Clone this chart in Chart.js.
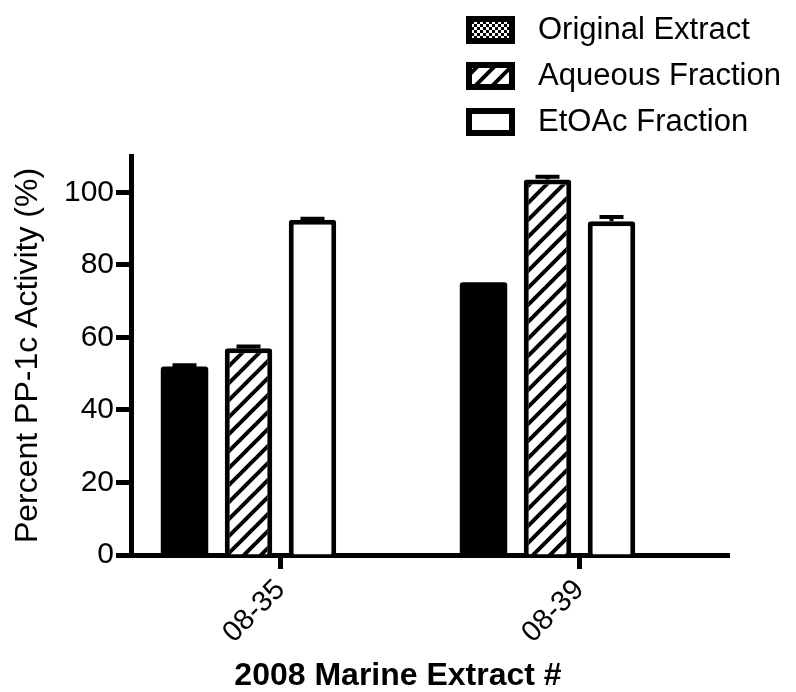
<!DOCTYPE html>
<html>
<head>
<meta charset="utf-8">
<script src="https://cdn.jsdelivr.net/npm/chart.js@4.4.1/dist/chart.umd.min.js"></script>
<style>
  html, body { margin: 0; padding: 0; background: #fff; }
  #wrap { width: 796px; height: 692px; }
</style>
</head>
<body>
<div id="wrap"><canvas id="chart" width="796" height="692"></canvas></div>
<script>
// Extract samples and their PP-1c activity (%), mean and upper SEM
const categories = ['08-35', '08-39'];
const originalExtract = [52.0, 75.2];
const originalExtractErr = [0.3, 0];
const aqueousFraction = [57.0, 103.5];
const aqueousFractionErr = [0.5, 0.8];
const etoacFraction = [92.4, 92.0];
const etoacFractionErr = [0.3, 1.2];
const yTicks = [0, 20, 40, 60, 80, 100];

const FONT = "'Liberation Sans', Arial, Helvetica, sans-serif";

function makeHatch() {
  const size = 17;
  const c = document.createElement('canvas');
  c.width = size; c.height = size;
  const g = c.getContext('2d');
  g.fillStyle = '#fff';
  g.fillRect(0, 0, size, size);
  g.strokeStyle = '#000';
  g.lineWidth = 4;
  for (const k of [-size, 0, size]) {
    g.beginPath();
    g.moveTo(k - 2, size + 2);
    g.lineTo(k + size + 2, -2);
    g.stroke();
  }
  return g.createPattern(c, 'repeat');
}

function makeChecker() {
  const s = 3;
  const c = document.createElement('canvas');
  c.width = 2 * s; c.height = 2 * s;
  const g = c.getContext('2d');
  g.fillStyle = '#fff';
  g.fillRect(0, 0, 2 * s, 2 * s);
  g.fillStyle = '#000';
  g.fillRect(0, 0, s, s);
  g.fillRect(s, s, s, s);
  return g.createPattern(c, 'repeat');
}

const hatch = makeHatch();
const checker = makeChecker();

// Upper error bars (stem + cap) drawn through the value scale
const errorBars = {
  id: 'errorBars',
  afterDatasetsDraw(chart, args, opts) {
    const ctx = chart.ctx;
    const y = chart.scales.y;
    chart.data.datasets.forEach((ds, i) => {
      if (!ds.errors) return;
      const meta = chart.getDatasetMeta(i);
      meta.data.forEach((bar, j) => {
        const v = ds.data[j], e = ds.errors[j];
        if (v == null || !e) return;
        const top = y.getPixelForValue(v + e);
        ctx.save();
        ctx.strokeStyle = '#000';
        ctx.lineWidth = opts.width;
        ctx.beginPath();
        ctx.moveTo(bar.x, bar.y);
        ctx.lineTo(bar.x, top);
        ctx.moveTo(bar.x - opts.cap / 2, top);
        ctx.lineTo(bar.x + opts.cap / 2, top);
        ctx.stroke();
        ctx.restore();
      });
    });
  }
};

// Boxed legend, one row per labelled series
const boxLegend = {
  id: 'boxLegend',
  afterDraw(chart, args, opts) {
    const ctx = chart.ctx;
    const items = chart.data.datasets.filter(d => d.label);
    items.forEach((ds, i) => {
      const cy = opts.top + i * opts.rowGap;
      const x = opts.left, w = opts.boxWidth, h = opts.boxHeight, b = opts.borderWidth;
      ctx.save();
      ctx.fillStyle = '#000';
      ctx.fillRect(x, cy - h / 2, w, h);
      ctx.fillStyle = ds.legendFill || ds.backgroundColor;
      ctx.fillRect(x + b, cy - h / 2 + b, w - 2 * b, h - 2 * b);
      ctx.fillStyle = '#000';
      ctx.font = opts.fontSize + 'px ' + FONT;
      ctx.textBaseline = 'middle';
      ctx.textAlign = 'left';
      ctx.fillText(ds.label, opts.textLeft, cy);
      ctx.restore();
    });
  }
};

const barStyle = {
  borderColor: '#000',
  borderWidth: 5,
  borderRadius: 3,
  categoryPercentage: 0.856,
  barPercentage: 0.742
};

new Chart(document.getElementById('chart'), {
  type: 'bar',
  data: {
    labels: categories,
    datasets: [
      // solid black bars: no separate outline needed
      Object.assign({ label: 'Original Extract', data: originalExtract, errors: originalExtractErr,
        backgroundColor: '#000', legendFill: checker }, barStyle, { borderWidth: 0 }),
      Object.assign({ label: 'Aqueous Fraction', data: aqueousFraction, errors: aqueousFractionErr,
        backgroundColor: hatch }, barStyle),
      Object.assign({ label: 'EtOAc Fraction', data: etoacFraction, errors: etoacFractionErr,
        backgroundColor: '#fff' }, barStyle),
      // empty fourth slot keeps each group to the left of its tick
      Object.assign({ label: '', data: categories.map(() => null), backgroundColor: 'rgba(0,0,0,0)' }, barStyle)
    ]
  },
  options: {
    responsive: false,
    animation: false,
    devicePixelRatio: 1,
    layout: { padding: { top: 156, right: 0, left: 0, bottom: 0 } },
    plugins: {
      legend: { display: false },
      tooltip: { enabled: false },
      title: {
        display: true,
        position: 'bottom',
        text: '2008 Marine Extract #',
        color: '#000',
        font: { family: FONT, size: 32, weight: 'bold', lineHeight: 1 },
        padding: { top: 0, bottom: 0 }
      },
      errorBars: { width: 4, cap: 24 },
      boxLegend: { left: 466, top: 30, rowGap: 46, boxWidth: 49, boxHeight: 28, borderWidth: 6, textLeft: 538, fontSize: 31 }
    },
    scales: {
      x: {
        z: 1,
        offset: true,
        afterFit: s => { s.height = 105; },
        grid: { display: true, drawOnChartArea: false, drawTicks: true, offset: false,
          tickLength: 14, tickWidth: 5, tickColor: '#000' },
        border: { display: true, width: 5, color: '#000' },
        ticks: { color: '#000', font: { family: FONT, size: 29 }, minRotation: 45, maxRotation: 45,
          autoSkip: false, padding: 4 }
      },
      y: {
        z: 1,
        min: 0,
        max: 110,
        afterFit: s => { s.width = 131; },
        afterBuildTicks: s => { s.ticks = yTicks.map(v => ({ value: v })); },
        grid: { display: true, drawOnChartArea: false, drawTicks: true,
          tickLength: 15, tickWidth: 5, tickColor: '#000' },
        border: { display: true, width: 5, color: '#000' },
        ticks: { color: '#000', font: { family: FONT, size: 30 }, padding: 2 },
        title: {
          display: true,
          text: 'Percent PP-1c Activity (%)',
          color: '#000',
          font: { family: FONT, size: 32, lineHeight: 1 },
          padding: { top: 12, bottom: 0 }
        }
      },
      // blank right margin strip
      yRight: {
        position: 'right',
        display: true,
        min: 0,
        max: 110,
        afterFit: s => { s.width = 67; },
        grid: { display: false, drawTicks: false },
        border: { display: false },
        ticks: { display: false }
      }
    }
  },
  plugins: [errorBars, boxLegend]
});
</script>
</body>
</html>
